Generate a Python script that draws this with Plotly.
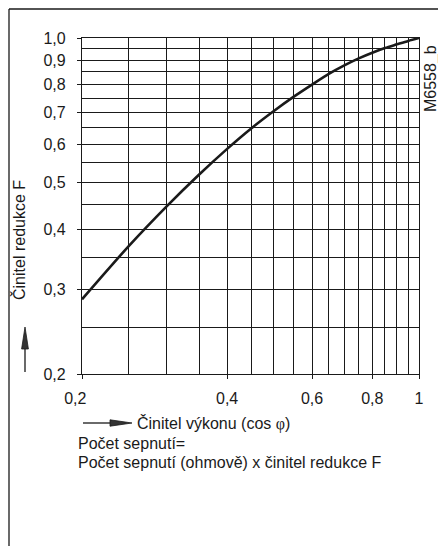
import plotly.graph_objects as go

# ---- data ----
cos_phi = [0.2, 0.25, 0.3, 0.35, 0.4, 0.45, 0.5, 0.55, 0.6, 0.65, 0.7, 0.75, 0.8, 0.85, 0.9, 0.95, 1.0]
factor_F = [0.286, 0.369, 0.447, 0.520, 0.588, 0.650, 0.705, 0.755, 0.800, 0.842, 0.877, 0.907, 0.932, 0.953, 0.970, 0.986, 1.0]

x_tick_vals = [0.2, 0.4, 0.6, 0.8, 1.0]
x_tick_text = ["0,2\u00a0\u00a0\u00a0", "0,4", "0,6", "0,8", "1"]
x_grid_vals = [0.25, 0.3, 0.35, 0.45, 0.5, 0.55, 0.65, 0.7, 0.75, 0.85, 0.9, 0.95]

y_tick_vals = [0.2, 0.3, 0.4, 0.5, 0.6, 0.7, 0.8, 0.9, 1.0]
y_tick_text = ["0,2", "0,3", "0,4", "0,5", "0,6", "0,7", "0,8", "0,9", "1,0"]
y_grid_vals = [0.25, 0.35, 0.45, 0.55, 0.65, 0.75, 0.85, 0.95]

# ---- layout geometry (pixels) ----
W, H = 438, 546
L, R, T, B = 82, 19, 38, 172
PW, PH = W - L - R, H - T - B
FONT = "Liberation Sans, Arial, sans-serif"
INK = "#1a1a1a"


def px(x):
    return (x - L) / PW


def py(y):
    return (H - B - y) / PH


fig = go.Figure()
fig.add_trace(go.Scatter(
    x=cos_phi, y=factor_F, mode="lines",
    line=dict(color=INK, width=2.6, shape="spline", smoothing=0.8),
    hoverinfo="skip", showlegend=False,
))

axis_common = dict(
    type="log", showgrid=True, gridcolor=INK, gridwidth=1.2,
    showline=True, mirror=True, linecolor=INK, linewidth=1.3,
    ticks="outside", ticklen=4, tickcolor=INK, tickwidth=1,
    zeroline=False, tickfont=dict(family=FONT, size=16, color=INK),
    fixedrange=True, automargin=False,
)

fig.update_xaxes(
    **axis_common, range=[-0.69897, 0], tickmode="array",
    tickvals=x_tick_vals, ticktext=x_tick_text, ticklabelstandoff=6,
    minor=dict(tickmode="array", tickvals=x_grid_vals, showgrid=True,
               gridcolor=INK, gridwidth=1.2, ticks=""),
)
fig.update_yaxes(
    **axis_common, range=[-0.69897, 0], tickmode="array",
    tickvals=y_tick_vals, ticktext=y_tick_text, ticklabelstandoff=8,
    minor=dict(tickmode="array", tickvals=y_grid_vals, showgrid=True,
               gridcolor=INK, gridwidth=1.2, ticks=""),
)

shapes = [
    # outer frame (top and left edges)
    dict(type="line", xref="paper", yref="paper", x0=px(9), y0=py(9), x1=px(440), y1=py(9),
         line=dict(color=INK, width=1.3)),
    dict(type="line", xref="paper", yref="paper", x0=px(9), y0=py(9), x1=px(9), y1=py(548),
         line=dict(color=INK, width=1.3)),
    # x arrow
    dict(type="line", xref="paper", yref="paper", x0=px(83), y0=py(423), x1=px(112), y1=py(423),
         line=dict(color=INK, width=1.3)),
    dict(type="path", xref="paper", yref="paper",
         path=f"M {px(110)} {py(419.8)} L {px(132)} {py(423)} L {px(110)} {py(426.2)} Z",
         fillcolor="#333", line=dict(color=INK, width=0.8)),
    # y arrow
    dict(type="line", xref="paper", yref="paper", x0=px(25), y0=py(372), x1=px(25), y1=py(346),
         line=dict(color=INK, width=1.3)),
    dict(type="path", xref="paper", yref="paper",
         path=f"M {px(21.6)} {py(349)} L {px(25)} {py(327)} L {px(28.4)} {py(349)} Z",
         fillcolor="#333", line=dict(color=INK, width=0.8)),
]

tf = dict(family=FONT, size=16, color=INK)
annotations = [
    dict(text="Činitel redukce F", x=px(19), y=py(240), xref="paper", yref="paper",
         textangle=-90, showarrow=False, font=tf, xanchor="center", yanchor="middle"),
    dict(text="M6558_b", x=px(431), y=py(78), xref="paper", yref="paper",
         textangle=-90, showarrow=False, font=tf, xanchor="center", yanchor="middle"),
    dict(text='Činitel výkonu (cos <span style="font-family:Liberation Serif, serif">φ</span>)',
         x=px(135), y=py(423), xref="paper", yref="paper",
         showarrow=False, font=tf, xanchor="left", yanchor="middle"),
    dict(text="Počet sepnutí=", x=px(76), y=py(443), xref="paper", yref="paper",
         showarrow=False, font=tf, xanchor="left", yanchor="middle"),
    dict(text="Počet sepnutí (ohmově) x činitel redukce F", x=px(76), y=py(462),
         xref="paper", yref="paper",
         showarrow=False, font=tf, xanchor="left", yanchor="middle"),
]

fig.update_layout(
    width=W, height=H,
    margin=dict(l=L, r=R, t=T, b=B, pad=0),
    paper_bgcolor="white", plot_bgcolor="white",
    shapes=shapes, annotations=annotations, showlegend=False,
)

fig.write_html(
    "out.html",
    config={"displayModeBar": False},
    post_script="document.body.style.margin='0';document.body.style.padding='0';",
)
